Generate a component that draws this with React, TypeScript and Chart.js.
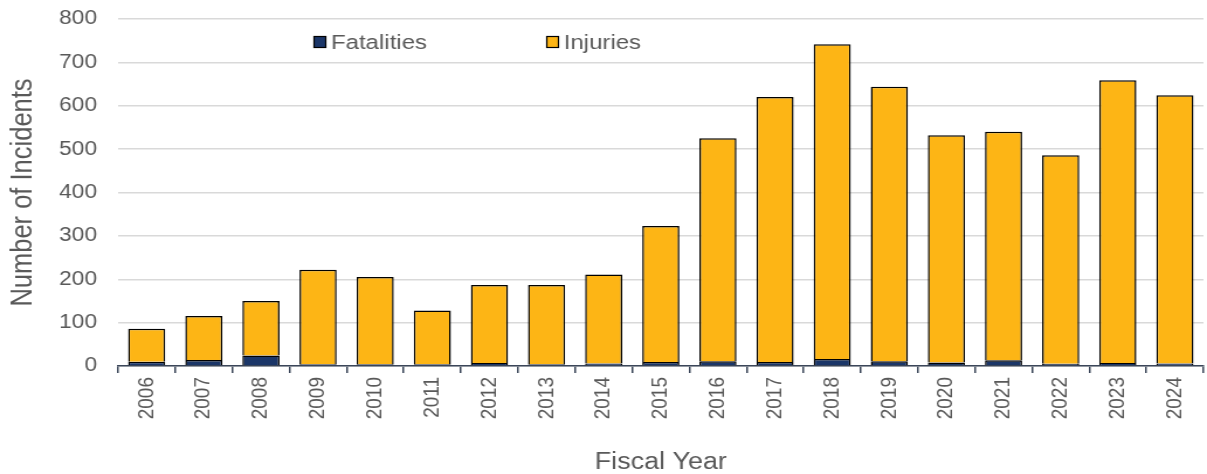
import React, { useEffect, useRef } from "react";
import { Chart, registerables } from "chart.js";

Chart.register(...registerables);

const years = ["2006","2007","2008","2009","2010","2011","2012","2013","2014","2015","2016","2017","2018","2019","2020","2021","2022","2023","2024"];
const fatalities = [10, 14, 24, 4, 4, 4, 7, 4, 6, 9, 11, 9, 16, 11, 8, 13, 5, 7, 6];
const injuries = [76, 101, 126, 218, 201, 124, 180, 183, 205, 314, 514, 611, 726, 633, 524, 527, 481, 652, 618];
const yTicks = [0, 100, 200, 300, 400, 500, 600, 700, 800];

const FONT = "'Liberation Sans', Arial, sans-serif";
const TEXT = "#595959";
const W = 1032;
const H = 474;
const STRETCH = 1207 / W;

const legendPlugin = {
  id: "insideLegend",
  afterDraw(chart: any) {
    const ctx = chart.ctx;
    const items = [
      { x: 268, label: chart.data.datasets[0].label, color: chart.data.datasets[0].backgroundColor },
      { x: 467, label: chart.data.datasets[1].label, color: chart.data.datasets[1].backgroundColor },
    ];
    const y = 42;
    ctx.save();
    ctx.font = `20.5px ${FONT}`;
    ctx.textBaseline = "middle";
    ctx.textAlign = "left";
    for (const it of items) {
      ctx.fillStyle = it.color;
      ctx.fillRect(it.x, y - 6, 11, 12);
      ctx.strokeStyle = "#000";
      ctx.lineWidth = 1.2;
      ctx.strokeRect(it.x + 0.5, y - 5.5, 10, 11);
      ctx.fillStyle = TEXT;
      ctx.fillText(it.label, it.x + 15, y + 1);
    }
    ctx.restore();
  },
};

export default function App() {
  const ref = useRef<HTMLCanvasElement>(null);
  useEffect(() => {
    document.body.style.margin = "0";
    const chart = new Chart(ref.current!, {
      type: "bar",
      data: {
        labels: years,
        datasets: [
          {
            label: "Fatalities",
            data: fatalities,
            backgroundColor: "#1B3668",
            borderColor: "#000000",
            borderWidth: 1.5,
            barPercentage: 0.65,
            categoryPercentage: 1,
          },
          {
            label: "Injuries",
            data: injuries,
            backgroundColor: "#FDB515",
            borderColor: "#000000",
            borderWidth: 1.5,
            barPercentage: 0.65,
            categoryPercentage: 1,
          },
        ],
      },
      options: {
        animation: false,
        responsive: false,
        maintainAspectRatio: false,
        layout: { padding: { top: 19, right: 3, left: 0, bottom: 0 } },
        plugins: { legend: { display: false }, tooltip: { enabled: false } },
        scales: {
          x: {
            stacked: true,
            afterFit: (axis: any) => {
              axis.height = 108;
              axis.paddingLeft = 0;
              axis.paddingRight = 0;
            },
            grid: { drawOnChartArea: false, drawTicks: true, tickLength: 7, color: "#3b4659", lineWidth: 1.5 },
            border: { display: true, color: "#3b4659", width: 1.5 },
            ticks: { color: TEXT, font: { size: 19, family: FONT }, minRotation: 90, maxRotation: 90, padding: 4 },
            title: { display: true, text: "Fiscal Year", color: TEXT, font: { size: 23, family: FONT }, padding: { top: 26, bottom: -2 } },
          },
          y: {
            stacked: true,
            min: 0,
            max: 800,
            afterBuildTicks: (axis: any) => { axis.ticks = yTicks.map((v) => ({ value: v })); },
            afterFit: (axis: any) => {
              axis.width = 101;
              axis.paddingTop = 0;
              axis.paddingBottom = 0;
            },
            grid: { color: "#d9d9d9", lineWidth: 1.5, drawTicks: false },
            border: { display: false },
            ticks: { color: TEXT, font: { size: 19.5, family: FONT }, padding: 18 },
            title: { display: true, text: "Number of Incidents", color: TEXT, font: { size: 25.5, family: FONT }, padding: { top: 5, bottom: 16 } },
          },
        },
      },
      plugins: [legendPlugin],
    });
    return () => chart.destroy();
  }, []);
  return (
    <div style={{ width: 1207, height: H, overflow: "hidden" }}>
      <div style={{ width: W, height: H, transform: `scaleX(${STRETCH})`, transformOrigin: "0 0" }}>
        <canvas ref={ref} width={W} height={H} style={{ display: "block" }} />
      </div>
    </div>
  );
}
